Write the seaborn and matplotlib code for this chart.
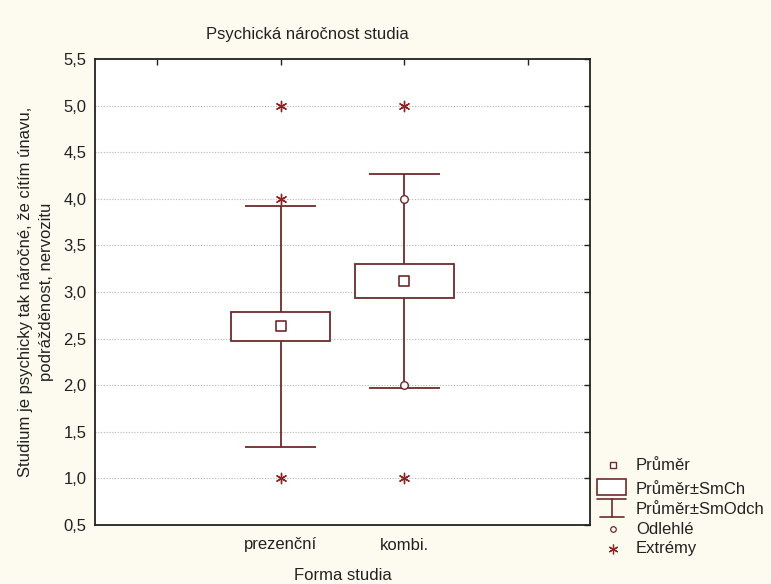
import numpy as np
import pandas as pd
import matplotlib
matplotlib.use("Agg")
import matplotlib.pyplot as plt
import matplotlib.ticker as mticker
from matplotlib.patches import Rectangle
import seaborn as sns

# Values (mean, SE, SD, outliers, extremes)
groups = ['prezenční', 'kombi.']
means = [2.63, 3.12]
se = [0.16, 0.18]
sd = [1.29, 1.145]
outliers = {'prezenční': [], 'kombi.': [4.0, 2.0]}
extremes = {'prezenční': [1.0, 4.0, 5.0], 'kombi.': [1.0, 5.0]}
yticks = [0.5, 1.0, 1.5, 2.0, 2.5, 3.0, 3.5, 4.0, 4.5, 5.0, 5.5]
legend_labels = ['Průměr', 'Průměr±SmCh', 'Průměr±SmOdch', 'Odlehlé', 'Extrémy']

sns.set_style("white")
plt.rcParams['font.family'] = ['Liberation Sans', 'DejaVu Sans']

line_col = '#6e2b2b'
star_col = '#8b2525'
txt_col = '#222222'
bg = '#fdfbf0'
fs = 12

fig = plt.figure(figsize=(7.71, 5.84), dpi=100, facecolor=bg)
ax = fig.add_axes([95 / 771, 59 / 584, 495 / 771, 466 / 584])
ax.set_facecolor('white')

pos = np.arange(len(groups))
box_w = 0.8
cap_w = 0.57

# whiskers: mean +- SD
for x, m, s in zip(pos, means, sd):
    ax.vlines(x, m - s, m + s, color=line_col, lw=1.3, zorder=2)
    ax.hlines([m - s, m + s], x - cap_w / 2, x + cap_w / 2, color=line_col, lw=1.3, zorder=2)

# boxes: mean +- SE
ax.bar(pos, [2 * e for e in se], bottom=[m - e for m, e in zip(means, se)], width=box_w,
       facecolor='white', edgecolor=line_col, linewidth=1.3, zorder=3)

mean_df = pd.DataFrame({'x': pos, 'y': means})
sns.scatterplot(data=mean_df, x='x', y='y', marker='s', s=45, facecolor='white',
                edgecolor=line_col, linewidth=1.2, ax=ax, zorder=4)

out_df = pd.DataFrame([(groups.index(g), v) for g in groups for v in outliers[g]], columns=['x', 'y'])
sns.scatterplot(data=out_df, x='x', y='y', marker='o', s=30, facecolor='white',
                edgecolor=line_col, linewidth=1.0, ax=ax, zorder=5)

ext_df = pd.DataFrame([(groups.index(g), v) for g in groups for v in extremes[g]], columns=['x', 'y'])
sns.scatterplot(data=ext_df, x='x', y='y', marker=(6, 2, 0), s=55, color=star_col,
                linewidth=1.0, ax=ax, zorder=5)

ax.set_xlim(-1.5, 2.5)
ax.set_ylim(0.5, 5.5)
ax.set_xticks([-1, 0, 1, 2])
ax.set_xticklabels(['', groups[0], groups[1], ''])
ax.set_yticks(yticks)
ax.yaxis.set_major_formatter(mticker.FuncFormatter(lambda v, p: f'{v:.1f}'.replace('.', ',')))
ax.grid(axis='y', color='#b5b5b5', linestyle=(0, (1, 1.5)), linewidth=0.8)
ax.grid(axis='x', visible=False)
ax.tick_params(direction='in', length=4, width=1, top=True, right=True,
               labelsize=fs, colors=txt_col)
ax.tick_params(axis='x', pad=9)
ax.tick_params(axis='y', pad=6)
for sp in ax.spines.values():
    sp.set_color(txt_col)
    sp.set_linewidth(1.3)

ax.set_xlabel('Forma studia', fontsize=fs, color=txt_col)
ax.xaxis.label.set_verticalalignment('center')
ax.xaxis.set_label_coords(0.5, -(575 - 525) / 466)
ax.set_ylabel('Studium je psychicky tak náročné, že cítím únavu,\npodrážděnost, nervozitu',
              fontsize=fs, color=txt_col, linespacing=1.45)
ax.yaxis.label.set_verticalalignment('center')
ax.yaxis.set_label_coords(-(95 - 36) / 495, 0.5)

fig.text(307 / 771, 1 - 35 / 584, 'Psychická náročnost studia', ha='center', va='center',
         fontsize=fs, color=txt_col)

# legend drawn in pixel coordinates
lg = fig.add_axes([0, 0, 1, 1], facecolor='none')
lg.set_xlim(0, 771)
lg.set_ylim(584, 0)
lg.axis('off')
lg.plot(613, 465, marker='s', ms=5, mfc='white', mec=line_col, mew=1.0)
lg.add_patch(Rectangle((597, 479), 29, 16, facecolor='white', edgecolor=line_col, lw=1.2))
lg.plot([597, 626], [499, 499], color=line_col, lw=1.2)
lg.plot([612, 612], [499, 517], color=line_col, lw=1.2)
lg.plot([600, 624], [517, 517], color=line_col, lw=1.2)
lg.plot(613, 529, marker='o', ms=4, mfc='white', mec=line_col, mew=0.9)
lg.plot(613, 549, marker=(6, 2, 0), ms=7, color=star_col, mew=0.9)
for t, yy in zip(legend_labels, [465, 489, 509, 529, 549]):
    lg.text(636, yy, t, ha='left', va='center', fontsize=fs, color=txt_col)

fig.savefig('out.png', dpi=100, facecolor=bg)
